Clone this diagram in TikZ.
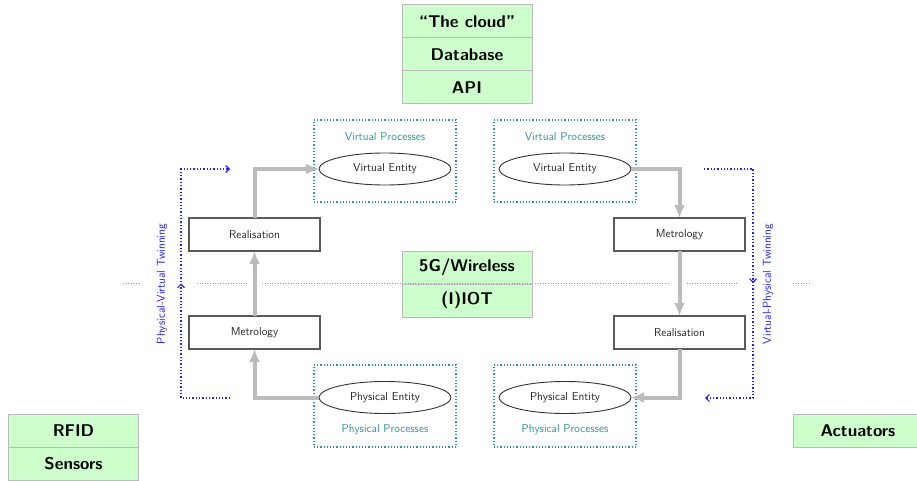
\documentclass[tikz,border=0pt]{standalone}
\usepackage{fontspec}
\usetikzlibrary{arrows.meta,shapes.geometric,decorations.markings,positioning}
\definecolor{boxgreen}{HTML}{CCFFCC}
\definecolor{boxgray}{HTML}{BBBBBB}
\definecolor{arrowgray}{HTML}{BBBBBB}
\definecolor{procteal}{HTML}{2A9696}
\definecolor{twinblue}{HTML}{2020FF}
\tikzset{
  stackbox/.style={rectangle, draw=boxgray, line width=1pt, fill=boxgreen,
    minimum width=130pt, minimum height=33pt, inner sep=0pt, outer sep=0pt,
    font=\sffamily\bfseries\fontsize{17}{20}\selectfont},
  stepbox/.style={rectangle, draw=black!65, line width=1.2pt,
    minimum width=131pt, minimum height=33pt, inner sep=0pt, outer sep=0pt,
    text=black!85, font=\sffamily\fontsize{11.5}{13}\selectfont},
  entity/.style={ellipse, draw=black!80, line width=0.9pt,
    minimum width=132pt, minimum height=32pt, inner sep=0pt, outer sep=0pt,
    text=black!85, font=\sffamily\fontsize{11.5}{13}\selectfont},
  procbox/.style={rectangle, draw=procteal, dotted, line width=1.2pt,
    minimum width=142pt, minimum height=82pt, inner sep=0pt, outer sep=0pt},
  proclabel/.style={text=procteal, inner sep=0pt, font=\sffamily\fontsize{11.5}{13}\selectfont},
  twinlabel/.style={text=twinblue, rotate=90, inner sep=0pt, font=\sffamily\fontsize{11.5}{13}\selectfont},
  flow/.style={draw=arrowgray, line width=4pt, -{Latex[length=13pt,width=11pt]}},
  twin/.style={draw=twinblue, dotted, line width=1.3pt,
    -{Straight Barb[length=3.5pt,width=7pt,line width=1.1pt]},
    decoration={markings, mark=at position 0.5 with {\arrow[solid,line width=1.1pt]{Straight Barb[length=3.5pt,width=7pt]}}},
    postaction={decorate}},
  midline/.style={draw=procteal!75, line width=1pt, dash pattern=on 1pt off 1.6pt},
}
\begin{document}
\begin{tikzpicture}[x=1pt,y=-1pt]
\useasboundingbox (0,0) rectangle (917,481);
% green stacks
\node[stackbox] (cloud) at (467,21.5) {``The cloud"};
\node[stackbox, below=0pt of cloud] (db) {Database};
\node[stackbox, below=0pt of db] (api) {API};
\node[stackbox] (wireless) at (467,267.5) {5G/Wireless};
\node[stackbox, below=0pt of wireless] (iot) {(I)IOT};
\node[stackbox] (rfid) at (73.5,430.5) {RFID};
\node[stackbox, below=0pt of rfid] (sensors) {Sensors};
\node[stackbox] (actuators) at (858,430.5) {Actuators};
% process boxes
\node[procbox] (vp1) at (385,161) {};
\node[procbox] (vp2) at (565,161) {};
\node[procbox] (pp1) at (385,406) {};
\node[procbox] (pp2) at (565,406) {};
\node[proclabel] (vpl1) at (385,137) {Virtual Processes};
\node[proclabel] (vpl2) at (565,137) {Virtual Processes};
\node[proclabel] (ppl1) at (385,430) {Physical Processes};
\node[proclabel] (ppl2) at (565,430) {Physical Processes};
% entities
\node[entity] (ve1) at (385,169) {Virtual Entity};
\node[entity] (ve2) at (565,169) {Virtual Entity};
\node[entity] (pe1) at (385,397.5) {Physical Entity};
\node[entity] (pe2) at (565,397.5) {Physical Entity};
% steps
\node[stepbox] (rea1) at (254.5,234.5) {Realisation};
\node[stepbox] (met1) at (254.5,332.5) {Metrology};
\node[stepbox] (met2) at (679.5,234.5) {Metrology};
\node[stepbox] (rea2) at (679.5,332.5) {Realisation};
% middle dotted line
\coordinate (m0) at (123,283.5); \coordinate (m1) at (139,283.5);
\coordinate (m2) at (197,283.5); \coordinate (m3) at (247,283.5);
\coordinate (m4) at (262,283.5); \coordinate (m5) at (669,283.5);
\coordinate (m6) at (687,283.5); \coordinate (m7) at (737,283.5);
\coordinate (m8) at (793,283.5); \coordinate (m9) at (811,283.5);
\draw[midline] (m0) -- (m1);
\draw[midline] (m2) -- (m3);
\draw[midline] (m4) -- (m5);
\draw[midline] (m6) -- (m7);
\draw[midline] (m8) -- (m9);
% flows
\draw[flow] (pe1.west) -| (met1.south);
\draw[flow] (met1.north) -- (rea1.south);
\draw[flow] (rea1.north) |- (ve1.west);
\draw[flow] (ve2.east) -| (met2.north);
\draw[flow] (met2.south) -- (rea2.north);
\draw[flow] (rea2.south) |- (pe2.east);
% twinning
\coordinate (lb) at (230,398); \coordinate (lbc) at (181,398);
\coordinate (ltc) at (181,169); \coordinate (lt) at (230,169);
\draw[twin] (lb) -- (lbc) -- (ltc) -- (lt);
\coordinate (rt) at (704,169); \coordinate (rtc) at (753,169);
\coordinate (rbc) at (753,398); \coordinate (rb) at (705,398);
\draw[twin] (rt) -- (rtc) -- (rbc) -- (rb);
\node[twinlabel] (twl) at (162,284) {Physical-Virtual Twinning};
\node[twinlabel] (twr) at (768,284) {Virtual-Physical Twinning};
\end{tikzpicture}
\end{document}
